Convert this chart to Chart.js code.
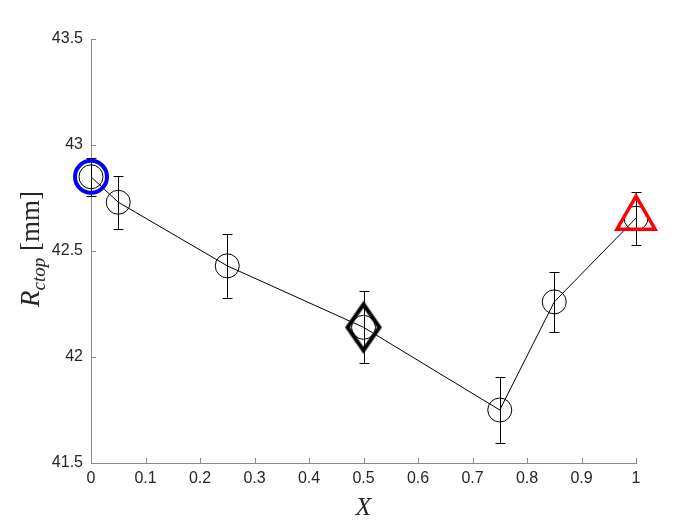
<!DOCTYPE html>
<html>
<head>
<meta charset="utf-8">
<script src="https://cdn.jsdelivr.net/npm/chart.js@4.4.1/dist/chart.umd.min.js"></script>
<style>
  html, body { margin: 0; padding: 0; background: #fff; }
</style>
</head>
<body>
<canvas id="myChart" width="700" height="525"></canvas>
<script>
// data
const xValues = [0, 0.05, 0.25, 0.5, 0.75, 0.85, 1];
const rValues = [42.85, 42.73, 42.43, 42.14, 41.75, 42.26, 42.655];
const rErrors = [0.09, 0.125, 0.15, 0.17, 0.155, 0.14, 0.125];
const xTicks = [0, 0.1, 0.2, 0.3, 0.4, 0.5, 0.6, 0.7, 0.8, 0.9, 1];
const yTicks = [41.5, 42, 42.5, 43, 43.5];
// highlighted points: index into xValues
const blueIdx = 0;
const diamondIdx = 3;
const redIdx = 6;

const axisColor = "#8a8a8a";
const textColor = "#262626";

// diamond marker (taller than wide, like matlab)
function makeDiamond() {
    const c = document.createElement("canvas");
    c.width = 42;
    c.height = 56;
    const g = c.getContext("2d");
    g.strokeStyle = "#000";
    g.lineWidth = 4;
    g.lineJoin = "miter";
    g.beginPath();
    g.moveTo(21, 5);
    g.lineTo(37, 28);
    g.lineTo(21, 51);
    g.lineTo(5, 28);
    g.closePath();
    g.stroke();
    return c;
}

const points = xValues.map((x, i) => ({ x: x, y: rValues[i] }));

const errorBars = {
    id: "errorBars",
    beforeDatasetsDraw(chart) {
        const ctx = chart.ctx;
        const xs = chart.scales.x;
        const ys = chart.scales.y;
        ctx.save();
        ctx.strokeStyle = "#000";
        ctx.lineWidth = 1;
        xValues.forEach((x, i) => {
            const px = Math.round(xs.getPixelForValue(x)) + 0.5;
            const top = Math.round(ys.getPixelForValue(rValues[i] + rErrors[i])) + 0.5;
            const bot = Math.round(ys.getPixelForValue(rValues[i] - rErrors[i])) + 0.5;
            ctx.beginPath();
            ctx.moveTo(px, top);
            ctx.lineTo(px, bot);
            ctx.moveTo(px - 5, top);
            ctx.lineTo(px + 5, top);
            ctx.moveTo(px - 5, bot);
            ctx.lineTo(px + 5, bot);
            ctx.stroke();
        });
        ctx.restore();
    }
};

const axisExtras = {
    id: "axisExtras",
    afterDraw(chart) {
        const ctx = chart.ctx;
        const xs = chart.scales.x;
        const ys = chart.scales.y;
        const area = chart.chartArea;
        ctx.save();
        // inward ticks
        ctx.strokeStyle = axisColor;
        ctx.lineWidth = 1;
        ctx.beginPath();
        xTicks.forEach(v => {
            const px = Math.round(xs.getPixelForValue(v)) + 0.5;
            ctx.moveTo(px, area.bottom);
            ctx.lineTo(px, area.bottom - 5);
        });
        yTicks.forEach(v => {
            const py = Math.round(ys.getPixelForValue(v)) + 0.5;
            ctx.moveTo(area.left, py);
            ctx.lineTo(area.left + 5, py);
        });
        ctx.stroke();

        // x label
        ctx.fillStyle = textColor;
        ctx.textAlign = "center";
        ctx.textBaseline = "alphabetic";
        ctx.font = "italic 26px 'Liberation Serif'";
        ctx.fillText("X", (area.left + area.right) / 2, 515);

        // y label: R_ctop [mm]
        const mainFont = "italic 27px 'Liberation Serif'";
        const subFont = "italic 19px 'Liberation Serif'";
        const unitFont = "27px 'Liberation Serif'";
        ctx.font = mainFont;
        const w1 = ctx.measureText("R").width;
        ctx.font = subFont;
        const w2 = ctx.measureText("ctop").width;
        ctx.font = unitFont;
        const w3 = ctx.measureText(" [mm]").width;
        const total = w1 + w2 + w3;
        ctx.translate(39, (area.top + area.bottom) / 2 - 2);
        ctx.rotate(-Math.PI / 2);
        ctx.textAlign = "left";
        let cx = -total / 2;
        ctx.font = mainFont;
        ctx.fillText("R", cx, 0);
        cx += w1;
        ctx.font = subFont;
        ctx.fillText("ctop", cx, 6);
        cx += w2;
        ctx.font = unitFont;
        ctx.fillText(" [mm]", cx, 0);
        ctx.restore();
    }
};

const ctx = document.getElementById("myChart").getContext("2d");
new Chart(ctx, {
    type: "scatter",
    data: {
        datasets: [
            {
                data: [points[blueIdx]],
                pointStyle: "circle",
                pointRadius: 16,
                borderWidth: 4,
                borderColor: "#0000ff",
                backgroundColor: "rgba(0,0,0,0)",
                clip: false
            },
            {
                data: [points[diamondIdx]],
                pointStyle: makeDiamond(),
                pointRadius: 20,
                clip: false
            },
            {
                data: [points[redIdx]],
                pointStyle: "triangle",
                pointRadius: 22,
                borderWidth: 3.5,
                borderColor: "#ff0000",
                backgroundColor: "rgba(0,0,0,0)",
                clip: false
            },
            {
                data: points,
                showLine: true,
                borderColor: "#000",
                borderWidth: 1,
                pointStyle: "circle",
                pointRadius: 12,
                pointBorderWidth: 1,
                pointBorderColor: "#000",
                pointBackgroundColor: "rgba(0,0,0,0)",
                clip: false
            }
        ]
    },
    options: {
        responsive: false,
        animation: false,
        devicePixelRatio: 1,
        layout: { padding: { top: 39, right: 64, left: 0, bottom: 0 } },
        plugins: {
            legend: { display: false },
            tooltip: { enabled: false }
        },
        scales: {
            x: {
                type: "linear",
                min: 0,
                max: 1,
                afterBuildTicks: scale => { scale.ticks = xTicks.map(v => ({ value: v })); },
                afterFit: scale => { scale.height = 62; },
                grid: { display: false, drawTicks: false },
                border: { display: true, color: axisColor, width: 1 },
                ticks: {
                    color: textColor,
                    padding: 6,
                    maxRotation: 0,
                    autoSkip: false,
                    font: { family: "'Liberation Sans'", size: 16 },
                    callback: v => String(v)
                }
            },
            y: {
                type: "linear",
                min: 41.5,
                max: 43.5,
                afterBuildTicks: scale => { scale.ticks = yTicks.map(v => ({ value: v })); },
                afterFit: scale => { scale.width = 91; },
                grid: { display: false, drawTicks: false },
                border: { display: true, color: axisColor, width: 1 },
                ticks: {
                    color: textColor,
                    padding: 8,
                    autoSkip: false,
                    font: { family: "'Liberation Sans'", size: 16 },
                    callback: v => String(v)
                }
            }
        }
    },
    plugins: [errorBars, axisExtras]
});
</script>
</body>
</html>
